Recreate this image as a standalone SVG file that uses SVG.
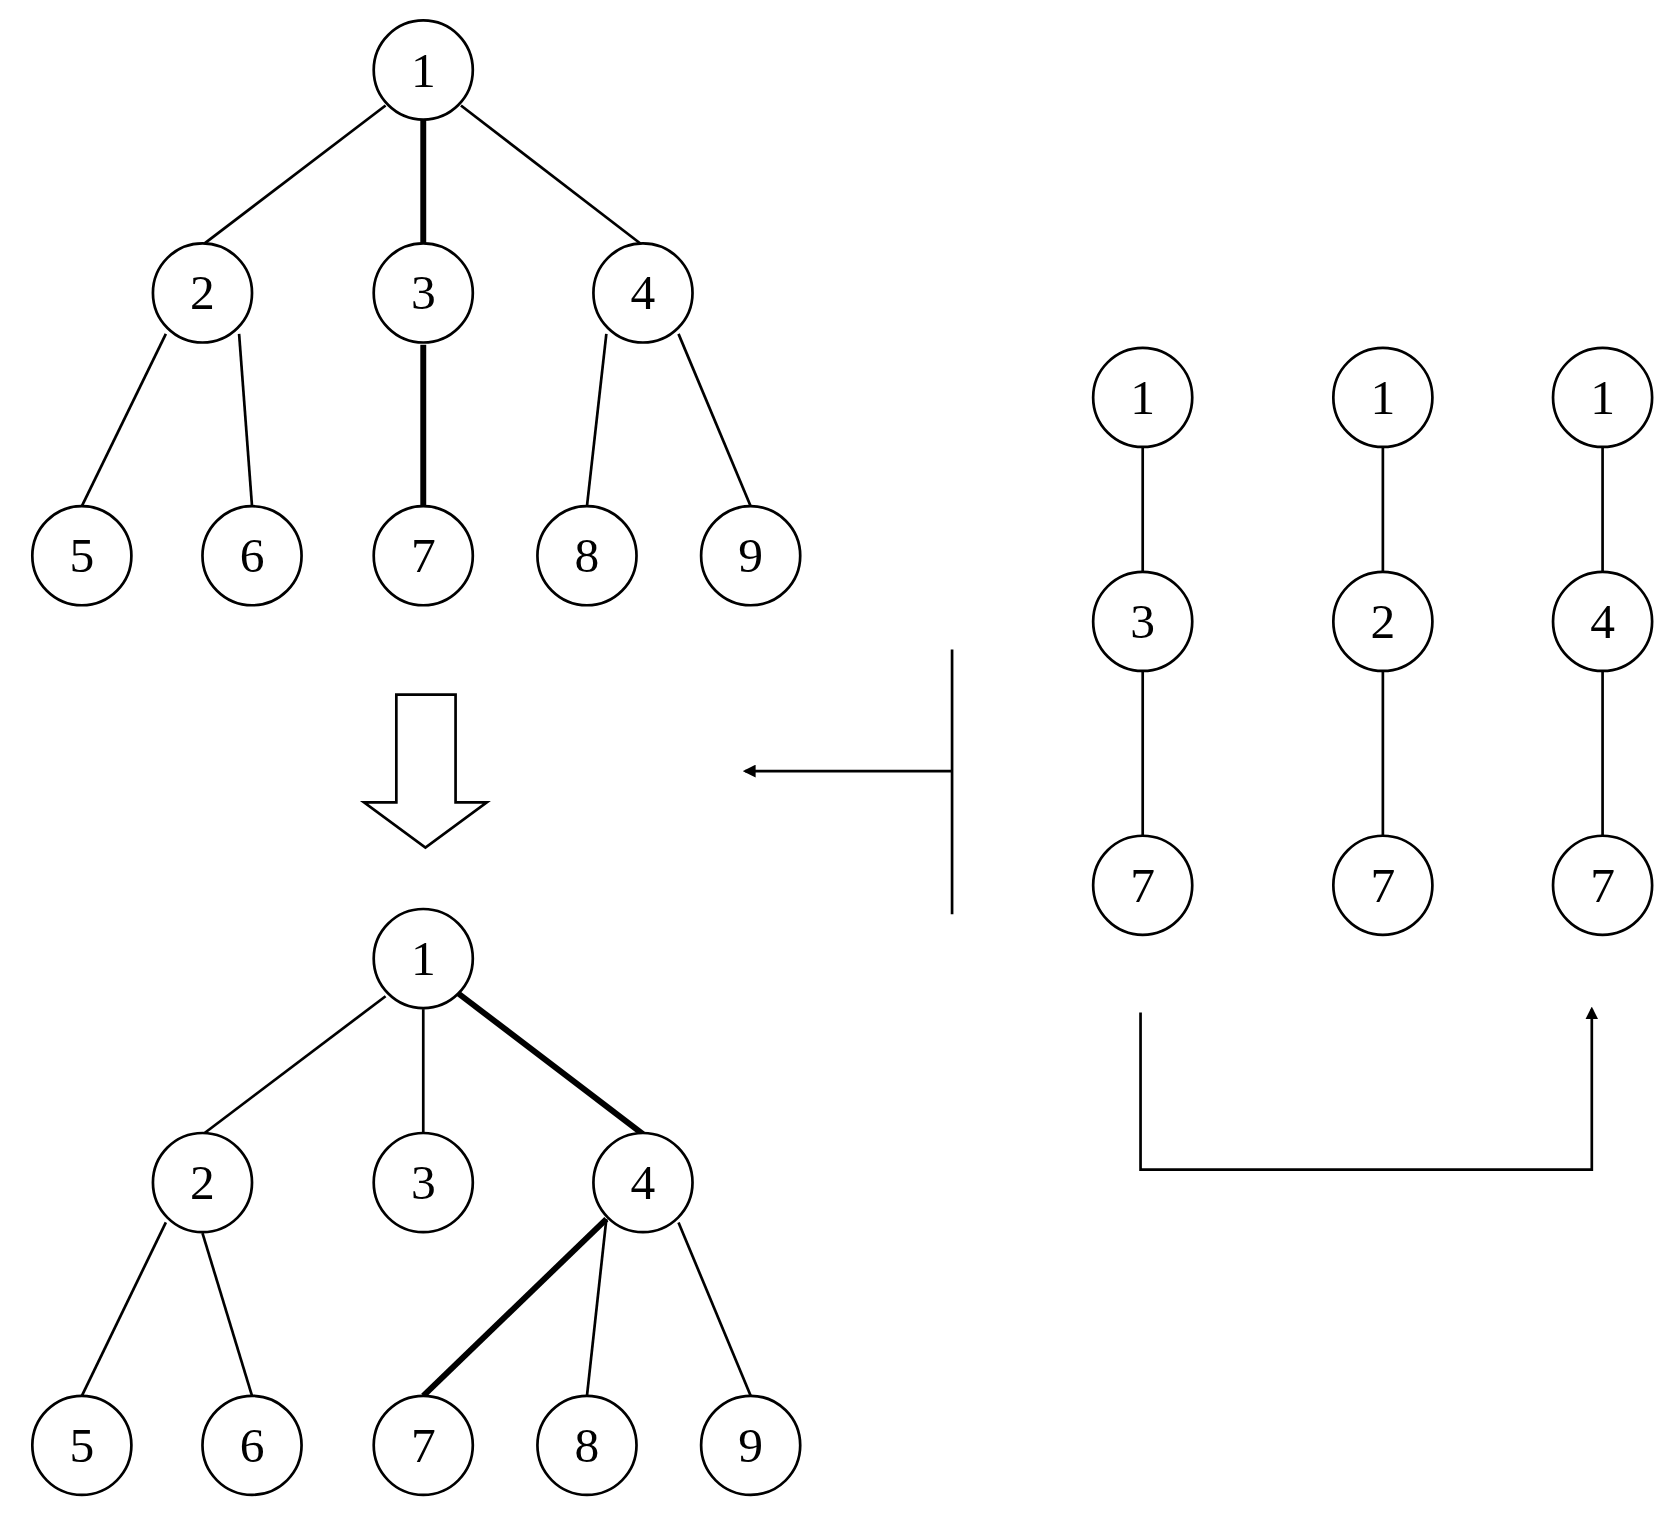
<svg xmlns="http://www.w3.org/2000/svg" width="1680" height="1526" viewBox="0 0 1680 1526">
<style>
circle{fill:#fff;stroke:#000;stroke-width:2.5}
text{font-family:"Liberation Serif",serif;font-size:46px;text-anchor:middle;dominant-baseline:central}
.e{stroke:#000;stroke-width:2.5;fill:none}
.t{stroke:#000;stroke-width:5.5;fill:none}
</style>
<defs><marker id="ah" viewBox="0 0 10 10" refX="8" refY="5" markerWidth="12" markerHeight="12" markerUnits="userSpaceOnUse" orient="auto"><path d="M0,0L10,5L0,10z" fill="#000"/></marker></defs>
<rect width="1680" height="1526" fill="#fff"/>
<g transform="scale(1.077)">
<g id="connectors">
<line class="e" x1="358" y1="98" x2="190" y2="226"/>
<line class="t" x1="393" y1="110" x2="393" y2="228"/>
<line class="e" x1="428" y1="98" x2="597" y2="228"/>
<line class="e" x1="154" y1="310" x2="76" y2="470"/>
<line class="e" x1="222" y1="310" x2="234" y2="470"/>
<line class="t" x1="393" y1="320" x2="393" y2="470"/>
<line class="e" x1="563" y1="310" x2="545" y2="470"/>
<line class="e" x1="630" y1="310" x2="697" y2="470"/>
<line class="e" x1="358" y1="925" x2="190" y2="1052"/>
<line class="e" x1="393" y1="937" x2="393" y2="1052"/>
<line class="t" x1="425" y1="922" x2="597" y2="1053"/>
<line class="e" x1="154" y1="1135" x2="76" y2="1296"/>
<line class="e" x1="188" y1="1145" x2="234" y2="1296"/>
<line class="t" x1="563" y1="1132" x2="393" y2="1296"/>
<line class="e" x1="563" y1="1132" x2="545" y2="1296"/>
<line class="e" x1="630" y1="1135" x2="697" y2="1296"/>
<line class="e" x1="1061" y1="415" x2="1061" y2="531"/>
<line class="e" x1="1061" y1="623" x2="1061" y2="776"/>
<line class="e" x1="1284" y1="415" x2="1284" y2="531"/>
<line class="e" x1="1284" y1="623" x2="1284" y2="776"/>
<line class="e" x1="1488" y1="415" x2="1488" y2="531"/>
<line class="e" x1="1488" y1="623" x2="1488" y2="776"/>
<path class="e" d="M368,645H423V745H452L395,787L338,745H368Z" fill="#fff"/>
<line class="e" x1="884" y1="603" x2="884" y2="849"/>
<line class="e" x1="884" y1="716" x2="692" y2="716" marker-end="url(#ah)"/>
<path class="e" d="M1059,940V1086H1478V937" marker-end="url(#ah)"/>
</g>
<g id="t1n1"><circle cx="393" cy="65" r="46"/><text x="393" y="65">1</text></g>
<g id="t1n2"><circle cx="188" cy="272" r="46"/><text x="188" y="272">2</text></g>
<g id="t1n3"><circle cx="393" cy="272" r="46"/><text x="393" y="272">3</text></g>
<g id="t1n4"><circle cx="597" cy="272" r="46"/><text x="597" y="272">4</text></g>
<g id="t1n5"><circle cx="76" cy="516" r="46"/><text x="76" y="516">5</text></g>
<g id="t1n6"><circle cx="234" cy="516" r="46"/><text x="234" y="516">6</text></g>
<g id="t1n7"><circle cx="393" cy="516" r="46"/><text x="393" y="516">7</text></g>
<g id="t1n8"><circle cx="545" cy="516" r="46"/><text x="545" y="516">8</text></g>
<g id="t1n9"><circle cx="697" cy="516" r="46"/><text x="697" y="516">9</text></g>
<g id="t2n1"><circle cx="393" cy="890" r="46"/><text x="393" y="890">1</text></g>
<g id="t2n2"><circle cx="188" cy="1098" r="46"/><text x="188" y="1098">2</text></g>
<g id="t2n3"><circle cx="393" cy="1098" r="46"/><text x="393" y="1098">3</text></g>
<g id="t2n4"><circle cx="597" cy="1098" r="46"/><text x="597" y="1098">4</text></g>
<g id="t2n5"><circle cx="76" cy="1342" r="46"/><text x="76" y="1342">5</text></g>
<g id="t2n6"><circle cx="234" cy="1342" r="46"/><text x="234" y="1342">6</text></g>
<g id="t2n7"><circle cx="393" cy="1342" r="46"/><text x="393" y="1342">7</text></g>
<g id="t2n8"><circle cx="545" cy="1342" r="46"/><text x="545" y="1342">8</text></g>
<g id="t2n9"><circle cx="697" cy="1342" r="46"/><text x="697" y="1342">9</text></g>
<g id="pa1"><circle cx="1061" cy="369" r="46"/><text x="1061" y="369">1</text></g>
<g id="pa3"><circle cx="1061" cy="577" r="46"/><text x="1061" y="577">3</text></g>
<g id="pa7"><circle cx="1061" cy="822" r="46"/><text x="1061" y="822">7</text></g>
<g id="pb1"><circle cx="1284" cy="369" r="46"/><text x="1284" y="369">1</text></g>
<g id="pb2"><circle cx="1284" cy="577" r="46"/><text x="1284" y="577">2</text></g>
<g id="pb7"><circle cx="1284" cy="822" r="46"/><text x="1284" y="822">7</text></g>
<g id="pc1"><circle cx="1488" cy="369" r="46"/><text x="1488" y="369">1</text></g>
<g id="pc4"><circle cx="1488" cy="577" r="46"/><text x="1488" y="577">4</text></g>
<g id="pc7"><circle cx="1488" cy="822" r="46"/><text x="1488" y="822">7</text></g>
</g>
</svg>
